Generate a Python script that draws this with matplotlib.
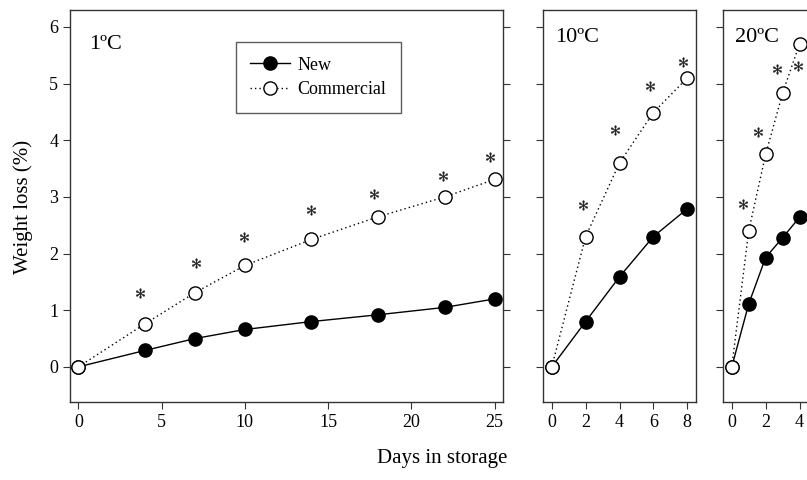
import matplotlib
matplotlib.use("Agg")
import matplotlib.pyplot as plt
from matplotlib.lines import Line2D

plt.rcParams['font.family'] = ['Liberation Serif', 'DejaVu Serif']
plt.rcParams['mathtext.fontset'] = 'stix'

# ---- data ----
panel_titles = ["1ºC", "10ºC", "20ºC"]

days_1 = [0, 4, 7, 10, 14, 18, 22, 25]
new_1 = [0, 0.29, 0.50, 0.66, 0.80, 0.92, 1.05, 1.20]
com_1 = [0, 0.76, 1.31, 1.79, 2.25, 2.65, 3.00, 3.31]
star_x_1 = [3.68, 7.08, 9.94, 14.0, 17.78, 21.87, 24.7]
star_y_1 = [1.30, 1.83, 2.29, 2.77, 3.06, 3.37, 3.70]

days_2 = [0, 2, 4, 6, 8]
new_2 = [0, 0.80, 1.59, 2.30, 2.79]
com_2 = [0, 2.30, 3.60, 4.49, 5.10]
star_x_2 = [1.85, 3.76, 5.79, 7.76]
star_y_2 = [2.85, 4.18, 4.96, 5.38]

days_3 = [0, 1, 2, 3, 4]
new_3 = [0, 1.11, 1.93, 2.28, 2.64]
com_3 = [0, 2.40, 3.75, 4.83, 5.70]
star_x_3 = [0.67, 1.52, 2.67, 3.90]
star_y_3 = [2.88, 4.15, 5.26, 5.31]

xticks_1 = [0, 5, 10, 15, 20, 25]
xticks_2 = [0, 2, 4, 6, 8]
xticks_3 = [0, 2, 4]
yticks = [0, 1, 2, 3, 4, 5, 6]

W, H = 807, 480
fig = plt.figure(figsize=(W / 100, H / 100), dpi=100)

def px_axes(left, right, top, bottom):
    return fig.add_axes([left / W, 1 - bottom / H, (right - left) / W, (bottom - top) / H])

ax1 = px_axes(70, 503, 10, 402)
ax2 = px_axes(543.3, 695.7, 10, 402)
ax3 = px_axes(723.3, 875.7, 10, 402)

panels = [
    (ax1, days_1, new_1, com_1, star_x_1, star_y_1, xticks_1, (-0.5, 25.5)),
    (ax2, days_2, new_2, com_2, star_x_2, star_y_2, xticks_2, (-0.5, 8.5)),
    (ax3, days_3, new_3, com_3, star_x_3, star_y_3, xticks_3, (-0.5, 8.5)),
]

ms = 9.5
dot = (0, (1, 2.2))
for i, (ax, d, n, c, sx, sy, xt, xl) in enumerate(panels):
    ax.plot(d, n, color='black', lw=1.0, ls='-', marker='o', ms=ms,
            mfc='black', mec='black', mew=1.0, zorder=3, clip_on=False)
    ax.plot(d, c, color='black', lw=1.0, ls=dot, marker='o', ms=ms,
            mfc='white', mec='black', mew=1.0, zorder=4, clip_on=False)
    ax.plot(sx, sy, ls='none', marker=r'$\ast$', ms=7, color='#222222',
            mew=0.3, zorder=5)
    ax.set_xlim(*xl)
    ax.set_ylim(-0.62, 6.3)
    ax.set_xticks(xt)
    ax.set_yticks(yticks)
    ax.tick_params(direction='out', length=5, width=0.8, labelsize=13, color='#333333')
    for s in ax.spines.values():
        s.set_linewidth(1.0)
        s.set_color('#333333')
    ax.text(0.044 if i == 0 else 0.08, 0.935 if i == 0 else 0.955, panel_titles[i],
            transform=ax.transAxes, fontsize=16, ha='left', va='top')
    if i == 0:
        ax.tick_params(axis='y', right=True, labelright=False)
    else:
        ax.tick_params(axis='y', labelleft=False)

handles = [
    Line2D([], [], color='black', lw=1.0, marker='o', ms=ms, mfc='black', mec='black'),
    Line2D([], [], color='black', lw=1.0, ls=dot, marker='o', ms=ms,
           mfc='white', mec='black'),
]
leg = ax1.legend(handles, ["New", "Commercial"], loc='upper left',
                 bbox_to_anchor=(0.383, 0.918), borderaxespad=0, fontsize=13,
                 frameon=True, fancybox=False, edgecolor='#333333',
                 handlelength=2.2, handletextpad=0.4, borderpad=0.8,
                 labelspacing=0.42)
leg.get_frame().set_linewidth(1.0)

fig.text(23 / W, 1 - 207 / H, "Weight loss (%)", rotation=90, fontsize=15,
         ha='center', va='center')
fig.text(442 / W, 1 - 458 / H, "Days in storage", fontsize=15,
         ha='center', va='center')

fig.savefig("out.png", dpi=100)
